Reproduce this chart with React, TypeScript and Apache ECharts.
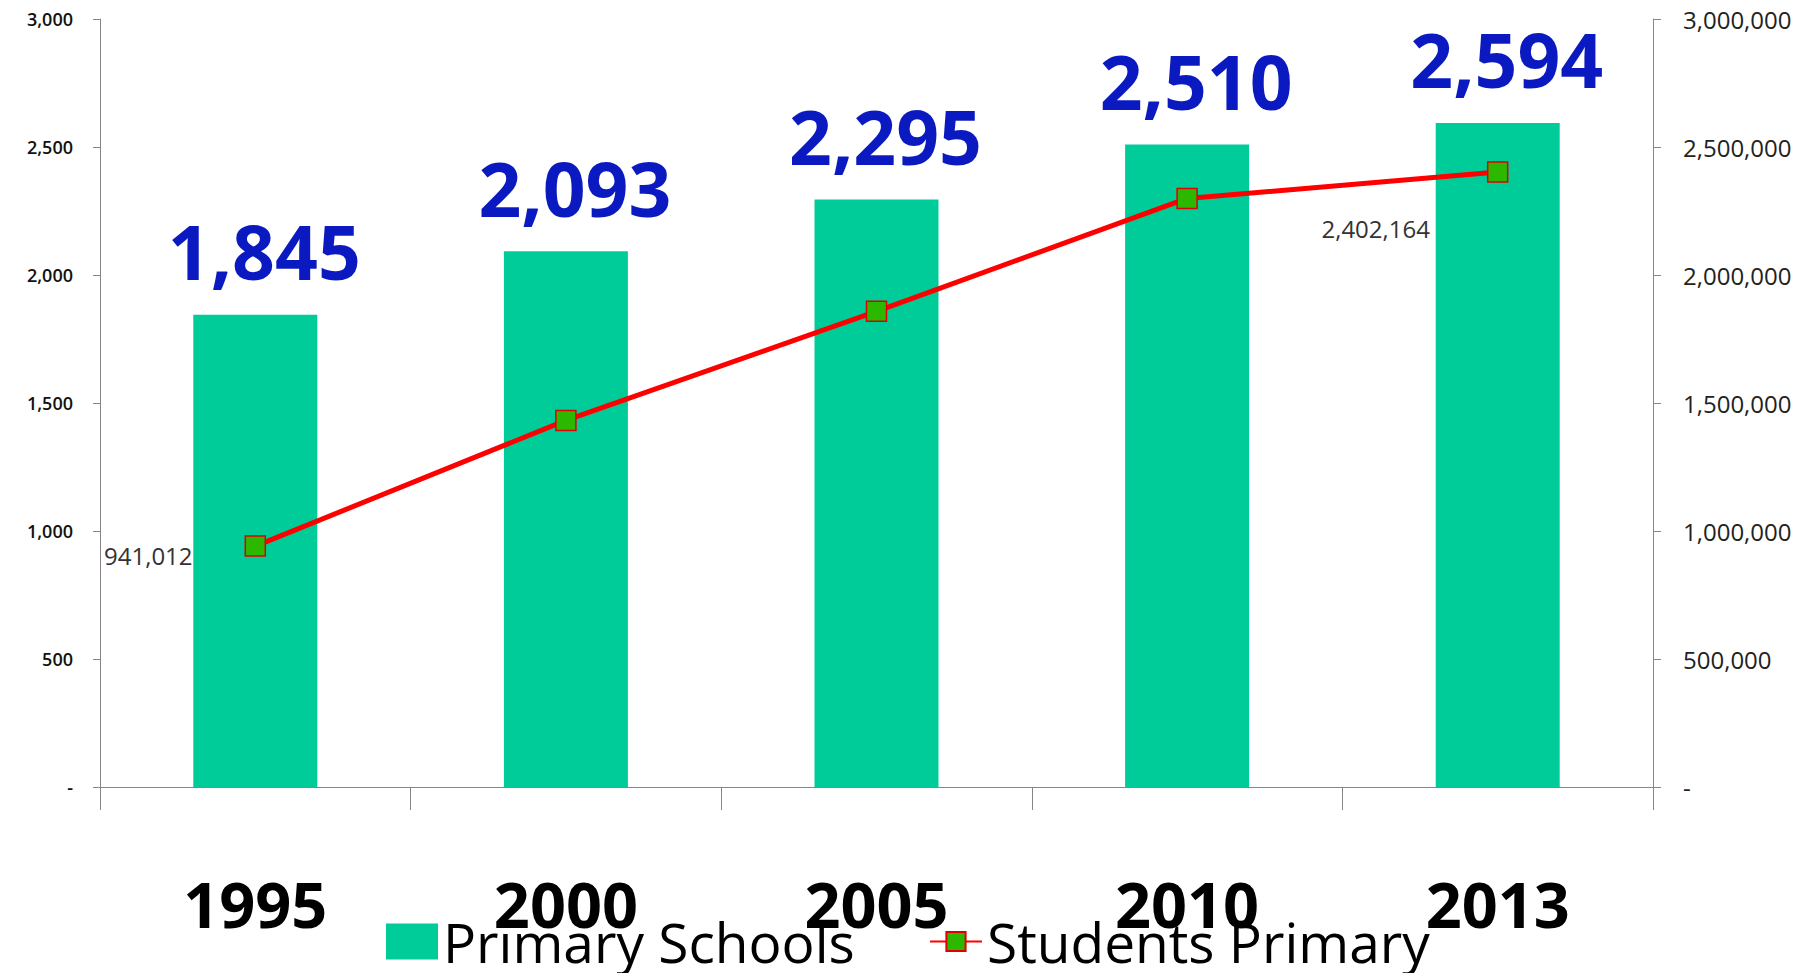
import React, { useEffect, useRef } from "react";
import * as echarts from "echarts";

const categories = ["1995", "2000", "2005", "2010", "2013"];
const primarySchools = [1845, 2093, 2295, 2510, 2594];
const studentsPrimary = [941012, 1432000, 1858000, 2299000, 2402164];
const labelledStudentPoints = [0, 4];
const studentLabelOffsets: Record<number, { distance: number; offset: [number, number] }> = {
  0: { distance: 52, offset: [0, 9] },
  4: { distance: 57, offset: [0, 56] },
};

const fmt = (v: number) => (v === 0 ? "-" : Math.round(v).toLocaleString("en-US"));

export default function App() {
  const ref = useRef<HTMLDivElement>(null);

  useEffect(() => {
    if (!ref.current) return;
    const chart = echarts.init(ref.current, null, { renderer: "svg" });
    const axisGray = "#868686";
    chart.setOption({
      animation: false,
      backgroundColor: "#ffffff",
      grid: { left: 100, right: 157, top: 19, bottom: 186, containLabel: false },
      legend: [
        {
          data: ["Primary Schools"],
          left: 386,
          top: 914,
          itemWidth: 52,
          itemHeight: 36,
          padding: 0,
          icon: "rect",
          textStyle: { fontFamily: "Open Sans", fontSize: 55, color: "#000" },
        },
        {
          data: ["Students Primary"],
          left: 929,
          top: 914,
          itemWidth: 52,
          itemHeight: 24,
          padding: 0,
          textStyle: { fontFamily: "Open Sans", fontSize: 55, color: "#000" },
        },
      ],
      xAxis: {
        type: "category",
        data: categories,
        axisLine: { lineStyle: { color: axisGray, width: 1 } },
        axisTick: { show: true, length: 23, alignWithLabel: false, interval: 0, lineStyle: { color: axisGray } },
        axisLabel: {
          interval: 0,
          margin: 85,
          fontFamily: "Open Sans",
          fontWeight: "bold",
          fontSize: 63,
          color: "#000",
        },
      },
      yAxis: [
        {
          type: "value",
          min: 0,
          max: 3000,
          interval: 500,
          position: "left",
          splitLine: { show: false },
          axisLine: { show: true, lineStyle: { color: axisGray } },
          axisTick: { show: true, length: 7, lineStyle: { color: axisGray } },
          axisLabel: {
            margin: 27,
            fontFamily: "Open Sans",
            fontWeight: 600,
            fontSize: 18,
            color: "#111",
            formatter: (v: number) => fmt(v),
          },
        },
        {
          type: "value",
          min: 0,
          max: 3000000,
          interval: 500000,
          position: "right",
          splitLine: { show: false },
          axisLine: { show: true, lineStyle: { color: axisGray } },
          axisTick: { show: true, length: 8, lineStyle: { color: axisGray } },
          axisLabel: {
            margin: 30,
            fontFamily: "Open Sans",
            fontSize: 24,
            color: "#222",
            formatter: (v: number) => fmt(v),
          },
        },
      ],
      series: [
        {
          name: "Primary Schools",
          type: "bar",
          yAxisIndex: 0,
          data: primarySchools,
          barWidth: 124,
          itemStyle: { color: "#00CC99" },
          label: {
            show: true,
            position: "top",
            distance: 26,
            offset: [9, 0],
            fontFamily: "Open Sans",
            fontWeight: "bold",
            fontSize: 75,
            color: "#0A1AC0",
            formatter: (p: any) => fmt(p.value),
          },
        },
        {
          name: "Students Primary",
          type: "line",
          yAxisIndex: 1,
          data: studentsPrimary.map((v, i) =>
            labelledStudentPoints.includes(i)
              ? {
                  value: v,
                  label: {
                    show: true,
                    position: "left",
                    distance: studentLabelOffsets[i].distance,
                    offset: studentLabelOffsets[i].offset,
                  },
                }
              : v
          ),
          symbol: "rect",
          symbolSize: 20,
          lineStyle: { color: "#FF0000", width: 5 },
          itemStyle: { color: "#2DB800", borderColor: "#E00000", borderWidth: 1.5 },
          label: {
            show: false,
            fontFamily: "Open Sans",
            fontSize: 24,
            color: "#333",
            formatter: (p: any) => fmt(p.value),
          },
        },
      ],
    });
    return () => chart.dispose();
  }, []);

  return (
    <div
      ref={ref}
      style={{ position: "absolute", left: 0, top: 0, width: 1810, height: 973 }}
    />
  );
}
